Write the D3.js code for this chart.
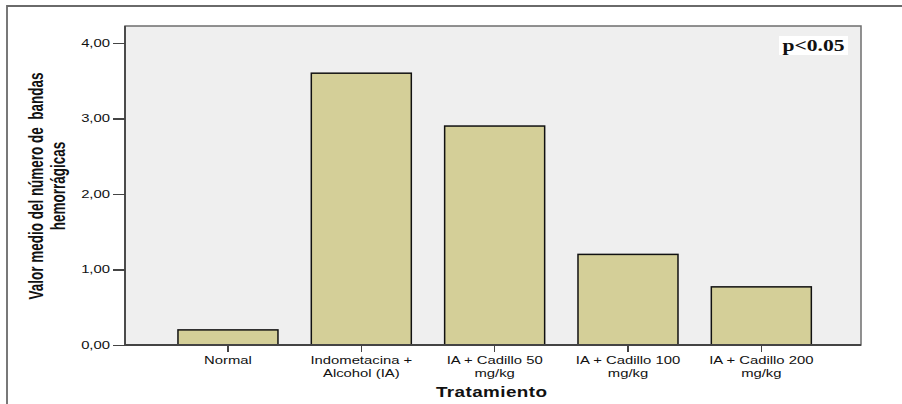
<!DOCTYPE html>
<meta charset="utf-8">
<style>
    body { margin: 0; background: #fff; }
    .axis path, .axis line { fill: none; stroke: #444; stroke-width: 1.5px; shape-rendering: crispEdges; }
    .axis text { font-family: "Liberation Sans", Arial, sans-serif; font-size: 11px; fill: #111; }
</style>
<div class="chart"></div>
<script src="https://cdn.jsdelivr.net/npm/d3@7"></script>
<script>
    // data
    var categories = ["Normal", "Indometacina + Alcohol (IA)", "IA + Cadillo 50 mg/kg", "IA + Cadillo 100 mg/kg", "IA + Cadillo 200 mg/kg"];
    var labelLines = [["Normal"], ["Indometacina +", "Alcohol (IA)"], ["IA + Cadillo 50", "mg/kg"], ["IA + Cadillo 100", "mg/kg"], ["IA + Cadillo 200", "mg/kg"]];
    var values = [0.2, 3.6, 2.9, 1.2, 0.77];
    var yTicks = [0, 1, 2, 3, 4];

    var W = 902, H = 404,
        plot = {left: 125, top: 26, right: 861, bottom: 345},
        stretch = 1.35;

    var svg = d3.select('.chart').append('svg')
        .attr('width', W).attr('height', H);

    // outer frame (top + left)
    svg.append('path')
        .attr('d', 'M7,404 L7,6 L902,6')
        .attr('fill', 'none').attr('stroke', '#6a6a6a').attr('stroke-width', 1.8);

    var x = d3.scaleBand()
        .domain(categories)
        .range([161.3, 828])
        .paddingInner(0.25)
        .paddingOuter(0.125);

    var y = d3.scaleLinear()
        .domain([0, 4.225])
        .range([plot.bottom, plot.top]);

    // plot background
    svg.append('rect')
        .attr('x', plot.left).attr('y', plot.top)
        .attr('width', plot.right - plot.left).attr('height', plot.bottom - plot.top)
        .attr('fill', '#efefef').attr('stroke', '#6e6e6e').attr('stroke-width', 1.5);

    // bars
    svg.selectAll('rect.bar')
        .data(values)
        .enter().append('rect')
        .attr('class', 'bar')
        .attr('x', function(d, i) { return x(categories[i]); })
        .attr('y', function(d) { return y(d); })
        .attr('width', x.bandwidth())
        .attr('height', function(d) { return y(0) - y(d); })
        .attr('fill', '#d4cf98')
        .attr('stroke', '#111')
        .attr('stroke-width', 1.5);

    var comma = d3.formatLocale({decimal: ",", thousands: ".", grouping: [3], currency: ["", ""]}).format(".2f");

    // y axis
    var yAxis = svg.append('g')
        .attr('class', 'y axis')
        .attr('transform', 'translate(' + plot.left + ',0)')
        .call(d3.axisLeft(y).tickValues(yTicks).tickSize(12).tickSizeOuter(0).tickFormat(''));
    yAxis.select('.domain').remove();

    svg.selectAll('text.ytick')
        .data(yTicks)
        .enter().append('text')
        .attr('class', 'ytick')
        .attr('transform', function(d) { return 'translate(110,' + (y(d) + 4) + ') scale(' + stretch + ',1)'; })
        .attr('text-anchor', 'end')
        .style('font-family', '"Liberation Sans", Arial, sans-serif')
        .style('font-size', '11px')
        .attr('fill', '#111')
        .text(function(d) { return comma(d); });

    // x axis
    var xAxis = svg.append('g')
        .attr('class', 'x axis')
        .attr('transform', 'translate(0,' + plot.bottom + ')')
        .call(d3.axisBottom(x).tickSize(7).tickSizeOuter(0).tickFormat(''));
    xAxis.select('.domain').remove();

    // left and bottom axis lines
    svg.append('line')
        .attr('x1', plot.left).attr('x2', plot.left)
        .attr('y1', plot.top).attr('y2', plot.bottom)
        .attr('stroke', '#444').attr('stroke-width', 1.8);
    svg.append('line')
        .attr('x1', plot.left).attr('x2', plot.right)
        .attr('y1', plot.bottom).attr('y2', plot.bottom)
        .attr('stroke', '#444').attr('stroke-width', 1.8);

    var labels = svg.selectAll('g.xlabel')
        .data(labelLines)
        .enter().append('g')
        .attr('class', 'xlabel')
        .attr('transform', function(d, i) { return 'translate(' + (x(categories[i]) + x.bandwidth() / 2) + ',364) scale(' + stretch + ',1)'; });
    labels.selectAll('text')
        .data(function(d) { return d; })
        .enter().append('text')
        .attr('y', function(d, i) { return i * 13; })
        .attr('text-anchor', 'middle')
        .style('font-family', '"Liberation Sans", Arial, sans-serif')
        .style('font-size', '11px')
        .attr('fill', '#111')
        .text(function(d) { return d; });

    // axis titles
    svg.append('text')
        .attr('transform', 'translate(' + ((x(categories[2]) + x.bandwidth() / 2) - 3) + ',397) scale(' + stretch + ',1)')
        .attr('text-anchor', 'middle')
        .style('font-family', '"Liberation Sans", Arial, sans-serif')
        .style('font-size', '14px')
        .style('font-weight', 'bold')
        .style('letter-spacing', '0.3px')
        .attr('fill', '#111')
        .text('Tratamiento');

    var yTitle = svg.append('g')
        .attr('transform', 'translate(43,186) scale(1.5,1) rotate(-90)');
    yTitle.selectAll('text')
        .data(['Valor medio del número de  bandas', 'hemorrágicas'])
        .enter().append('text')
        .attr('y', function(d, i) { return i * 14.7; })
        .attr('text-anchor', 'middle')
        .style('font-family', '"Liberation Sans Narrow", "Arial Narrow", "Liberation Sans", sans-serif')
        .style('font-stretch', 'condensed')
        .style('font-size', '13.5px')
        .style('font-weight', 'bold')
        .style('white-space', 'pre')
        .attr('fill', '#111')
        .text(function(d) { return d; });

    // p-value note
    svg.append('rect')
        .attr('x', 779).attr('y', 36).attr('width', 69).attr('height', 19)
        .attr('fill', '#fff');
    svg.append('text')
        .attr('transform', 'translate(813.5,51) scale(' + stretch + ',1)')
        .attr('text-anchor', 'middle')
        .style('font-family', '"Liberation Serif", "Times New Roman", serif')
        .style('font-size', '16px')
        .style('font-weight', 'bold')
        .attr('fill', '#111')
        .text('p<0.05');
</script>
